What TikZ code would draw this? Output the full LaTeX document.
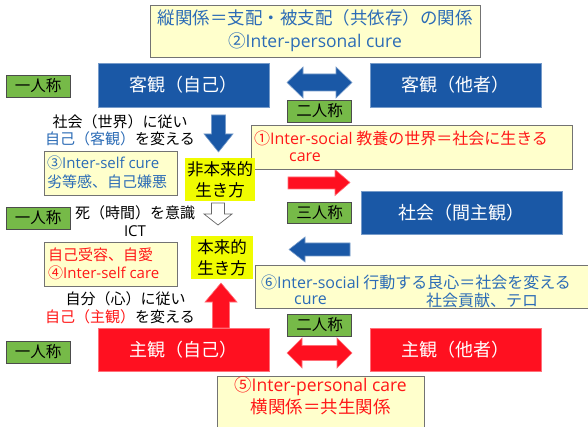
\documentclass[tikz,border=0pt]{standalone}
\usepackage{fontspec}
\setmainfont{Noto Sans CJK JP}
\newfontfamily\lat{Open Sans}
\definecolor{boxblue}{RGB}{26,88,166}
\definecolor{boxred}{RGB}{255,16,32}
\definecolor{lblgreen}{RGB}{118,186,72}
\definecolor{paleyel}{RGB}{255,255,204}
\definecolor{brightyel}{RGB}{240,252,0}
\definecolor{txtblue}{RGB}{44,108,182}
\definecolor{txtred}{RGB}{255,24,24}
\begin{document}
\begin{tikzpicture}[x=1pt,y=-1pt,
  bigbox/.style={minimum width=171pt, minimum height=44pt, inner sep=0pt, text=white, font=\fontsize{18}{22}\selectfont, line width=0.6pt},
  bluebox/.style={bigbox, fill=boxblue, draw=boxblue!60!white},
  redbox/.style={bigbox, fill=boxred, draw=boxred!60!white},
  persona/.style={fill=lblgreen, draw=black!70, line width=0.8pt, minimum width=64pt, minimum height=22pt, inner sep=0pt, font=\fontsize{15.5}{18}\selectfont},
  notebox/.style={fill=paleyel, draw=black!55, line width=0.8pt, inner sep=0pt},
  waybox/.style={fill=brightyel, inner sep=0pt, align=center, font=\fontsize{16.5}{20.5}\selectfont},
  lbl/.style={inner sep=0pt, font=\fontsize{15}{18}\selectfont},
  notetxt/.style={inner sep=0pt, anchor=west, font=\fontsize{16}{19}\selectfont},
  smalltxt/.style={inner sep=0pt, anchor=west, font=\fontsize{15}{18}\selectfont},
  arrblue/.style={fill=boxblue, draw=boxblue!60!white, line width=0.6pt},
  arrred/.style={fill=boxred, draw=boxred!60!white, line width=0.6pt},
  arrwhite/.style={fill=white, draw=black!60, line width=0.7pt}
]
\useasboundingbox (0,0) rectangle (588,427);
\clip (0,0) rectangle (588,427);
\fill[white] (0,0) rectangle (588,427);

% top note
\node[notebox, minimum width=330pt, minimum height=52pt, align=center, text=txtblue,
      font=\fontsize{17.5}{23}\selectfont] (top) at (315,31)
  {縦関係＝支配・被支配（共依存）の関係\\②{\lat Inter-personal cure}};

% main boxes
\node[bluebox] (selfobj) at (183.5,85) {客観（自己）};
\node[bluebox] (otherobj) at (455.5,85) {客観（他者）};
\node[bluebox, minimum width=201pt, minimum height=43pt] (society) at (461.5,212.5) {社会（間主観）};
\node[redbox, minimum height=43pt] (selfsubj) at (183.5,350) {主観（自己）};
\node[redbox, minimum height=43pt] (othersubj) at (455.5,350) {主観（他者）};

% person labels
\node[persona] (p1a) at (38,86) {一人称};
\node[persona] (p2a) at (319.5,111) {二人称};
\node[persona, minimum height=21pt] (p3) at (319.5,212.5) {三人称};
\node[persona] (p1b) at (38,218) {一人称};
\node[persona] (p2b) at (319.5,325) {二人称};
\node[persona] (p1c) at (38,352) {一人称};

% arrows
\draw[arrblue] (287,82.5) -- (303,67) -- (303,74) -- (336,74) -- (336,67) -- (352,82.5)
  -- (336,98) -- (336,91) -- (303,91) -- (303,98) -- cycle;
\draw[arrred] (287,353) -- (302,338) -- (302,345.5) -- (337,345.5) -- (337,338) -- (352,353)
  -- (337,368) -- (337,360.5) -- (302,360.5) -- (302,368) -- cycle;
\draw[arrblue] (211.5,115) -- (225.5,115) -- (225.5,134) -- (233,134) -- (218.5,152)
  -- (204,134) -- (211.5,134) -- cycle;
\draw[arrwhite] (211.5,203) -- (224.5,203) -- (224.5,214) -- (232,214) -- (218,225)
  -- (204,214) -- (211.5,214) -- cycle;
\draw[arrred] (288,177) -- (335,177) -- (335,169.5) -- (350,182.5) -- (335,195.5)
  -- (335,189) -- (288,189) -- cycle;
\draw[arrblue] (350,243) -- (305,243) -- (305,237) -- (289,249.5) -- (305,262)
  -- (305,256) -- (350,256) -- cycle;
\draw[arrred] (221,283) -- (237,302) -- (229.5,302) -- (229.5,328) -- (212.5,328)
  -- (212.5,302) -- (205,302) -- cycle;

% note boxes
\node[notebox, minimum width=321pt, minimum height=44pt] (n1) at (411.5,147) {};
\node[notetxt, text=txtred] (n1a) at (254,138) {①{\lat Inter-social} 教養の世界＝社会に生きる};
\node[notetxt, text=txtred] (n1b) at (289,157) {\lat care};

\node[notebox, minimum width=345pt, minimum height=43pt] (n6) at (427.5,286.5) {};
\node[notetxt, text=txtblue] (n6a) at (261,282) {⑥{\lat Inter-social} 行動する良心＝社会を変える};
\node[notetxt, text=txtblue] (n6b) at (294,300) {\lat cure};
\node[notetxt, text=txtblue] (n6c) at (426,300) {社会貢献、テロ};

\node[notebox, minimum width=133pt, minimum height=44pt] (n3) at (110.5,173) {};
\node[smalltxt, text=txtblue] (n3a) at (47,163) {③{\lat Inter-self cure}};
\node[smalltxt, text=txtblue] (n3b) at (47,182) {劣等感、自己嫌悪};

\node[notebox, minimum width=133pt, minimum height=44pt] (n4) at (110.5,264) {};
\node[smalltxt, text=txtred] (n4a) at (48,255) {自己受容、自愛};
\node[smalltxt, text=txtred] (n4b) at (48,273) {④{\lat Inter-self care}};

\node[notebox, minimum width=207pt, minimum height=62pt, align=center, text=txtred,
      font=\fontsize{17.5}{22}\selectfont] (n5) at (320.5,408)
  {⑤{\lat Inter-personal care}\\横関係＝共生関係\\[4pt]};

% way-of-life boxes
\node[waybox, minimum width=70pt, minimum height=43pt] (inauth) at (220,179.5) {非本来的\\生き方};
\node[waybox, minimum width=62pt, minimum height=43pt] (auth) at (222,257.5) {本来的\\生き方};

% annotations
\node[lbl] (t1) at (120,122) {社会（世界）に従い};
\node[lbl] (t2) at (120,139) {{\color{txtblue}自己（客観）}を変える};
\node[lbl] (t3) at (135,213) {死（時間）を意識};
\node[lbl] (t4) at (135,231) {\lat ICT};
\node[lbl] (t5) at (125.5,299) {自分（心）に従い};
\node[lbl] (t6) at (120,317) {{\color{txtred}自己（主観）}を変える};
\end{tikzpicture}
\end{document}
